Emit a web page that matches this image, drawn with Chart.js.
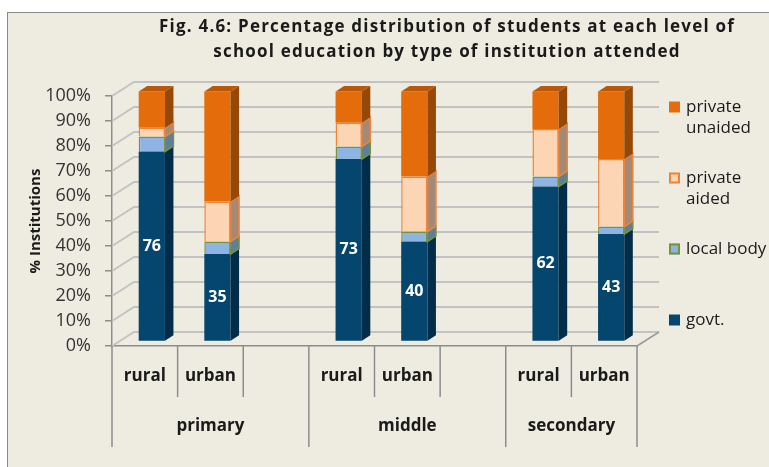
<!DOCTYPE html>
<html>
<head>
<meta charset="utf-8">
<script src="https://cdn.jsdelivr.net/npm/chart.js@4.4.1/dist/chart.umd.min.js"></script>
<style>
  html, body { margin: 0; padding: 0; background: #fff; overflow: hidden; }
  #frame { position: absolute; left: 7px; top: 12px; width: 800px; height: 500px; background: #EEECE1; border: 1px solid #8a8a8a; }
  #wrap { position: absolute; left: 0; top: 0; width: 769px; height: 467px; }
</style>
</head>
<body>
<div id="frame"></div>
<div id="wrap"><canvas id="chart" width="769" height="467"></canvas></div>
<script>
// data (percent of students)
const categories = ["rural", "urban", "", "rural", "urban", "", "rural", "urban"];
const levels = ["primary", "middle", "secondary"];
const levelSlots = [[0, 2], [3, 5], [6, 7]];
const govt = [76, 35, null, 73, 40, null, 62, 43];
const localBody = [6, 5, null, 5, 4, null, 4, 3];
const privateAided = [3.5, 16, null, 9.5, 22, null, 19, 27];
const privateUnaided = [14.5, 44, null, 12.5, 34, null, 15, 27];
const titleLines = [
  "Fig. 4.6: Percentage distribution of students at each level of",
  "school education by type of institution attended"
];

const FONT = "'Open Sans', sans-serif";
const wallDepth = { x: 22, y: -14 };
const barShift = { x: 7, y: -4.5 };
const barDepth = { x: 8.5, y: -5.5 };

function wrapText(ctx, text, maxWidth) {
  const words = text.split(" ");
  const lines = [];
  let line = "";
  for (const w of words) {
    const test = line ? line + " " + w : w;
    if (line && ctx.measureText(test).width > maxWidth) {
      lines.push(line);
      line = w;
    } else {
      line = test;
    }
  }
  lines.push(line);
  return lines;
}

const threeD = {
  id: "threeD",
  beforeDatasetsDraw(chart) {
    const { ctx, chartArea: a, scales: { y } } = chart;
    ctx.save();
    ctx.strokeStyle = "#C2C2C2";
    ctx.lineWidth = 1.8;
    y.ticks.forEach((t) => {
      const py = y.getPixelForValue(t.value);
      ctx.beginPath();
      ctx.moveTo(a.left, py);
      ctx.lineTo(a.left + wallDepth.x, py + wallDepth.y);
      ctx.lineTo(a.right + wallDepth.x, py + wallDepth.y);
      ctx.stroke();
    });
    ctx.strokeStyle = "#9A9A9A";
    ctx.lineWidth = 1.5;
    ctx.beginPath();
    ctx.moveTo(a.right, a.bottom);
    ctx.lineTo(a.right + wallDepth.x, a.bottom + wallDepth.y);
    ctx.stroke();
    ctx.restore();

    ctx.save();
    ctx.translate(barShift.x, barShift.y);
  },
  afterDatasetsDraw(chart) {
    const { ctx } = chart;
    const last = chart.data.datasets.length - 1;
    chart.data.datasets.forEach((ds, di) => {
      const meta = chart.getDatasetMeta(di);
      meta.data.forEach((bar, i) => {
        if (ds.data[i] == null) return;
        const { x, y, base, width } = bar.getProps(["x", "y", "base", "width"], true);
        const l = x - width / 2;
        const r = x + width / 2;
        ctx.beginPath();
        ctx.moveTo(r, y);
        ctx.lineTo(r + barDepth.x, y + barDepth.y);
        ctx.lineTo(r + barDepth.x, base + barDepth.y);
        ctx.lineTo(r, base);
        ctx.closePath();
        ctx.fillStyle = ds.sideColor;
        ctx.fill();
        if (ds.borderWidth) {
          ctx.strokeStyle = ds.borderColor;
          ctx.lineWidth = ds.borderWidth;
          ctx.stroke();
        }
        if (di === last) {
          ctx.beginPath();
          ctx.moveTo(l, y);
          ctx.lineTo(l + barDepth.x, y + barDepth.y);
          ctx.lineTo(r + barDepth.x, y + barDepth.y);
          ctx.lineTo(r, y);
          ctx.closePath();
          ctx.fillStyle = ds.topColor;
          ctx.fill();
        }
      });
    });

    // value labels on the govt segment
    const meta0 = chart.getDatasetMeta(0);
    ctx.fillStyle = "#FFFFFF";
    ctx.font = "bold 16px " + FONT;
    ctx.textAlign = "center";
    ctx.textBaseline = "middle";
    meta0.data.forEach((bar, i) => {
      if (govt[i] == null) return;
      const { x, y, base } = bar.getProps(["x", "y", "base"], true);
      ctx.fillText(String(govt[i]), x, (y + base) / 2);
    });
    ctx.restore();
  },
  afterDraw(chart) {
    const { ctx, chartArea: a, scales: { x: xs } } = chart;
    ctx.save();

    // category dividers below the floor
    const slot = (a.right - a.left) / categories.length;
    const groupEdges = [0, 3, 6, 8];
    ctx.strokeStyle = "#8C8C8C";
    ctx.lineWidth = 1.5;
    for (let i = 0; i <= categories.length; i++) {
      const bx = a.left + i * slot;
      const isLong = groupEdges.includes(i);
      ctx.beginPath();
      ctx.moveTo(bx, a.bottom);
      ctx.lineTo(bx, a.bottom + (isLong ? 101 : 51));
      ctx.stroke();
    }

    // level labels
    ctx.fillStyle = "#1a1a1a";
    ctx.font = "bold 17px " + FONT;
    ctx.textAlign = "center";
    ctx.textBaseline = "middle";
    levels.forEach((lv, k) => {
      const [s, e] = levelSlots[k];
      const cx = (xs.getPixelForValue(s) + xs.getPixelForValue(e)) / 2;
      ctx.fillText(lv, cx, a.bottom + 80);
    });

    // title
    ctx.font = "bold 17px " + FONT;
    ctx.letterSpacing = "1.2px";
    titleLines.forEach((t, k) => ctx.fillText(t, 447, 27 + k * 25));
    ctx.letterSpacing = "0px";

    // legend, top entry is the top of the stack
    ctx.font = "17px " + FONT;
    ctx.textAlign = "left";
    const items = chart.data.datasets.slice().reverse();
    items.forEach((ds, k) => {
      const y0 = a.top + 11 + k * 71;
      const mx = a.right + 32;
      ctx.fillStyle = ds.backgroundColor;
      ctx.fillRect(mx, y0 - 5.5, 11, 11);
      if (ds.borderWidth) {
        ctx.strokeStyle = ds.borderColor;
        ctx.lineWidth = 2;
        ctx.strokeRect(mx + 1, y0 - 4.5, 9, 9);
      }
      ctx.fillStyle = "#1a1a1a";
      wrapText(ctx, ds.label, 92).forEach((ln, j) => {
        ctx.fillText(ln, mx + 17, y0 + j * 21);
      });
    });
    ctx.restore();
  }
};

new Chart(document.getElementById("chart"), {
  type: "bar",
  data: {
    labels: categories,
    datasets: [
      { label: "govt.", data: govt, backgroundColor: "#05466F", sideColor: "#022D48", topColor: "#04365A", borderWidth: 0, clip: false },
      { label: "local body", data: localBody, backgroundColor: "#8EB4E3", borderColor: "#77933C", borderWidth: 1.5, sideColor: "#5F7D9C", topColor: "#7A9CC8", clip: false },
      { label: "private aided", data: privateAided, backgroundColor: "#FCD5B5", borderColor: "#F0833A", borderWidth: 1.5, sideColor: "#A38A76", topColor: "#E0B898", clip: false },
      { label: "private unaided", data: privateUnaided, backgroundColor: "#E46C0A", sideColor: "#964806", topColor: "#B85808", borderWidth: 0, clip: false }
    ]
  },
  options: {
    responsive: false,
    animation: false,
    devicePixelRatio: 1,
    barPercentage: 0.4,
    categoryPercentage: 1,
    layout: { padding: { left: 0, right: 132, top: 96, bottom: 0 } },
    plugins: {
      legend: { display: false },
      tooltip: { enabled: false },
      title: { display: false }
    },
    scales: {
      x: {
        stacked: true,
        grid: { display: false },
        border: { display: true, color: "#8C8C8C", width: 1.5 },
        ticks: { color: "#1a1a1a", font: { family: FONT, size: 17, weight: "bold" }, padding: 12, maxRotation: 0, autoSkip: false },
        afterFit: (s) => { s.height = 121; }
      },
      y: {
        stacked: true,
        min: 0,
        max: 100,
        ticks: { stepSize: 10, callback: (v) => v + "%", padding: 14, color: "#333333", font: { family: FONT, size: 18 } },
        grid: { drawOnChartArea: false, tickLength: 7, color: "#8C8C8C", lineWidth: 1.5 },
        border: { display: true, color: "#8C8C8C", width: 1.5 },
        title: { display: true, text: "% Institutions", color: "#1a1a1a", font: { family: FONT, size: 15, weight: "bold" }, padding: { top: 27, bottom: 0 } },
        afterFit: (s) => { s.width = 112; }
      }
    }
  },
  plugins: [threeD]
});
</script>
</body>
</html>
